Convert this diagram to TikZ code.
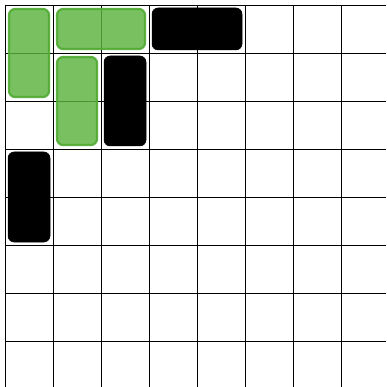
\documentclass[tikz,border=0pt]{standalone}
\definecolor{piecegreen}{RGB}{92,180,62}
\definecolor{piecegreenedge}{RGB}{80,170,50}
\tikzset{
  gridline/.style={line width=0.9pt, black},
  greenpiece/.style={fill=piecegreen, draw=piecegreenedge, line width=2.2pt, rounded corners=6pt, fill opacity=0.82, draw opacity=0.9},
  blackpiece/.style={fill=black, draw=black, line width=0.5pt, rounded corners=6pt}
}
\begin{document}
\begin{tikzpicture}[x=1pt,y=-1pt]
\useasboundingbox (0,0) rectangle (386,387);
\fill[white] (0,0) rectangle (386,387);
% grid
\foreach \k in {0,...,7}{
  \draw[gridline] ({5+48*\k},5) -- ({5+48*\k},387);
  \draw[gridline] (5,{5+48*\k}) -- (386,{5+48*\k});
}
% black pieces
\draw[blackpiece] (152,8) rectangle (242,50);
\draw[blackpiece] (104,56) rectangle (146,146);
\draw[blackpiece] (8,152) rectangle (50,242);
% green pieces
\draw[greenpiece] (9,9) rectangle (49,97);
\draw[greenpiece] (57,9) rectangle (145,49);
\draw[greenpiece] (57,57) rectangle (97,145);
\end{tikzpicture}
\end{document}
